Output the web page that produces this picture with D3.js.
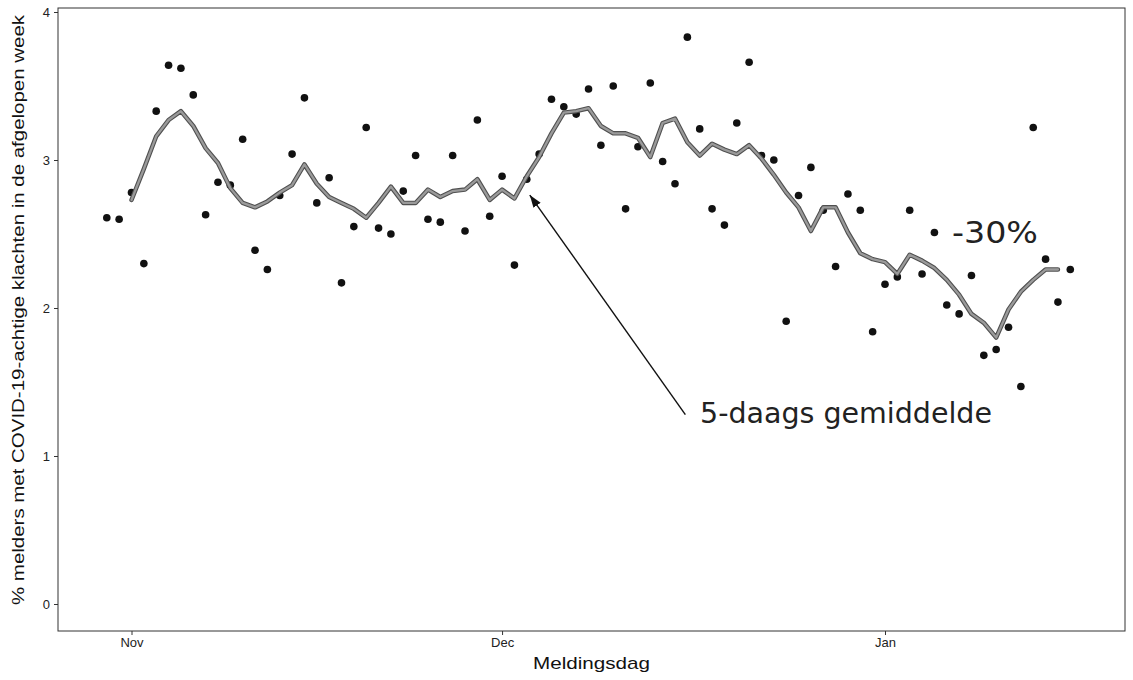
<!DOCTYPE html>
<html>
<head>
<meta charset="utf-8">
<script src="https://cdn.jsdelivr.net/npm/d3@7"></script>
<style>
  html, body { margin: 0; padding: 0; background: #fff; }
  svg { display: block; }
</style>
</head>
<body>
<svg id="chart" width="1133" height="680"></svg>
<script>
// ---- Data ----
const startDate = "2020-10-30"; // first reporting day
// daily % of reporters with COVID-19-like complaints
const dailyValues = [
  2.61, 2.60, 2.78, 2.30, 3.33, 3.64, 3.62, 3.44, 2.63, 2.85,
  2.83, 3.14, 2.39, 2.26, 2.76, 3.04, 3.42, 2.71, 2.88, 2.17,
  2.55, 3.22, 2.54, 2.50, 2.79, 3.03, 2.60, 2.58, 3.03, 2.52,
  3.27, 2.62, 2.89, 2.29, 2.87, 3.04, 3.41, 3.36, 3.31, 3.48,
  3.10, 3.50, 2.67, 3.09, 3.52, 2.99, 2.84, 3.83, 3.21, 2.67,
  2.56, 3.25, 3.66, 3.03, 3.00, 1.91, 2.76, 2.95, 2.66, 2.28,
  2.77, 2.66, 1.84, 2.16, 2.21, 2.66, 2.23, 2.51, 2.02, 1.96,
  2.22, 1.68, 1.72, 1.87, 1.47, 3.22, 2.33, 2.04, 2.26
];
// 5-day moving average (null where not drawn)
const avgValues = [
  null, null, 2.73, 2.94, 3.16, 3.27, 3.33, 3.23, 3.08, 2.98,
  2.81, 2.71, 2.68, 2.72, 2.78, 2.83, 2.97, 2.84, 2.75, 2.71,
  2.67, 2.61, 2.71, 2.82, 2.71, 2.71, 2.80, 2.75, 2.79, 2.80,
  2.87, 2.73, 2.80, 2.74, 2.89, 3.02, 3.18, 3.32, 3.33, 3.35,
  3.23, 3.18, 3.18, 3.15, 3.02, 3.25, 3.28, 3.12, 3.03, 3.11,
  3.07, 3.04, 3.10, 3.01, 2.90, 2.78, 2.68, 2.52, 2.68, 2.68,
  2.51, 2.37, 2.33, 2.31, 2.23, 2.36, 2.32, 2.27, 2.19, 2.09,
  1.96, 1.90, 1.80, 1.99, 2.11, 2.19, 2.26, 2.26, null
];
const xTickDates = ["2020-11-01", "2020-12-01", "2021-01-01"];
const xTickLabels = ["Nov", "Dec", "Jan"];
const yTickValues = [0, 1, 2, 3, 4];
const yTitle = "% melders met COVID-19-achtige klachten in de afgelopen week";
const xTitle = "Meldingsdag";
const avgLabel = "5-daags gemiddelde";
const changeLabel = "-30%";
// annotation arrow: from label to the line (date, value)
const arrowFrom = { date: "2020-12-16", value: 1.30 };
const arrowTo = { date: "2020-12-03", value: 2.77 };

// ---- Build ----
const parse = d3.utcParse("%Y-%m-%d");
const d0 = parse(startDate);
const rows = dailyValues.map((v, i) => ({
  date: d3.utcDay.offset(d0, i),
  value: v,
  avg: avgValues[i]
}));

const svg = d3.select("#chart");
const panel = { left: 58, right: 1125, top: 8, bottom: 631 };

const x = d3.scaleUtc()
  .domain([parse("2020-11-01"), parse("2021-01-01")])
  .range([131.5, 885]);
const y = d3.scaleLinear().domain([0, 4]).range([604, 12]);

// panel border
svg.append("rect")
  .attr("x", panel.left).attr("y", panel.top)
  .attr("width", panel.right - panel.left)
  .attr("height", panel.bottom - panel.top)
  .attr("fill", "none").attr("stroke", "#333").attr("stroke-width", 1);

// y axis
const yAxis = d3.axisLeft(y).tickValues(yTickValues).tickSize(4).tickPadding(4)
  .tickFormat(d3.format("d"));
const gy = svg.append("g").attr("transform", `translate(${panel.left},0)`).call(yAxis);
gy.select(".domain").remove();
gy.selectAll(".tick line").attr("stroke", "#333");
gy.selectAll(".tick text").attr("font-family", "Liberation Sans, Arial, sans-serif")
  .attr("font-size", 13).attr("fill", "#222");

// x axis
const xAxis = d3.axisBottom(x).tickValues(xTickDates.map(parse)).tickSize(4).tickPadding(3)
  .tickFormat((d, i) => xTickLabels[i]);
const gx = svg.append("g").attr("transform", `translate(0,${panel.bottom})`).call(xAxis);
gx.select(".domain").remove();
gx.selectAll(".tick line").attr("stroke", "#333");
gx.selectAll(".tick text").attr("font-family", "Liberation Sans, Arial, sans-serif")
  .attr("font-size", 13).attr("fill", "#222");

// axis titles
svg.append("text")
  .attr("x", (panel.left + panel.right) / 2).attr("y", 669)
  .attr("text-anchor", "middle")
  .attr("font-family", "Liberation Sans, Arial, sans-serif")
  .attr("font-size", 17).attr("fill", "#111")
  .attr("textLength", 117).attr("lengthAdjust", "spacingAndGlyphs")
  .text(xTitle);

svg.append("text")
  .attr("transform", `translate(24,${(12 + 604) / 2 + 2}) rotate(-90)`)
  .attr("text-anchor", "middle")
  .attr("font-family", "Liberation Sans, Arial, sans-serif")
  .attr("font-size", 16).attr("fill", "#111")
  .attr("textLength", 590).attr("lengthAdjust", "spacingAndGlyphs")
  .text(yTitle);

// points
svg.append("g").selectAll("circle").data(rows).join("circle")
  .attr("cx", d => x(d.date)).attr("cy", d => y(d.value))
  .attr("r", 3.8).attr("fill", "#111");

// moving average line (dark edge + grey core)
const line = d3.line().defined(d => d.avg != null)
  .x(d => x(d.date)).y(d => y(d.avg));
svg.append("path").datum(rows).attr("d", line)
  .attr("fill", "none").attr("stroke", "#505050").attr("stroke-width", 4.5)
  .attr("stroke-linejoin", "round").attr("stroke-linecap", "round");
svg.append("path").datum(rows).attr("d", line)
  .attr("fill", "none").attr("stroke", "#9a9a9a").attr("stroke-width", 2.3)
  .attr("stroke-linejoin", "round").attr("stroke-linecap", "round");

// arrow
const defs = svg.append("defs");
defs.append("marker").attr("id", "ah")
  .attr("viewBox", "0 0 10 10").attr("refX", 10).attr("refY", 5)
  .attr("markerWidth", 9).attr("markerHeight", 9).attr("orient", "auto")
  .append("path").attr("d", "M0,1.5 L10,5 L0,8.5 Z").attr("fill", "#111");
svg.append("line")
  .attr("x1", x(parse(arrowFrom.date)) - 2).attr("y1", y(arrowFrom.value) + 3)
  .attr("x2", x(parse(arrowTo.date)) + 3).attr("y2", y(arrowTo.value) + 1)
  .attr("stroke", "#111").attr("stroke-width", 1.4)
  .attr("marker-end", "url(#ah)");

// annotation labels
svg.append("text")
  .attr("x", 700).attr("y", 423)
  .attr("font-family", "DejaVu Sans, Verdana, sans-serif")
  .attr("font-size", 28.5).attr("fill", "#222")
  .text(avgLabel);
svg.append("text")
  .attr("x", 952).attr("y", 243)
  .attr("font-family", "DejaVu Sans, Verdana, sans-serif")
  .attr("font-size", 30).attr("fill", "#222")
  .attr("textLength", 86).attr("lengthAdjust", "spacingAndGlyphs")
  .text(changeLabel);
</script>
</body>
</html>
